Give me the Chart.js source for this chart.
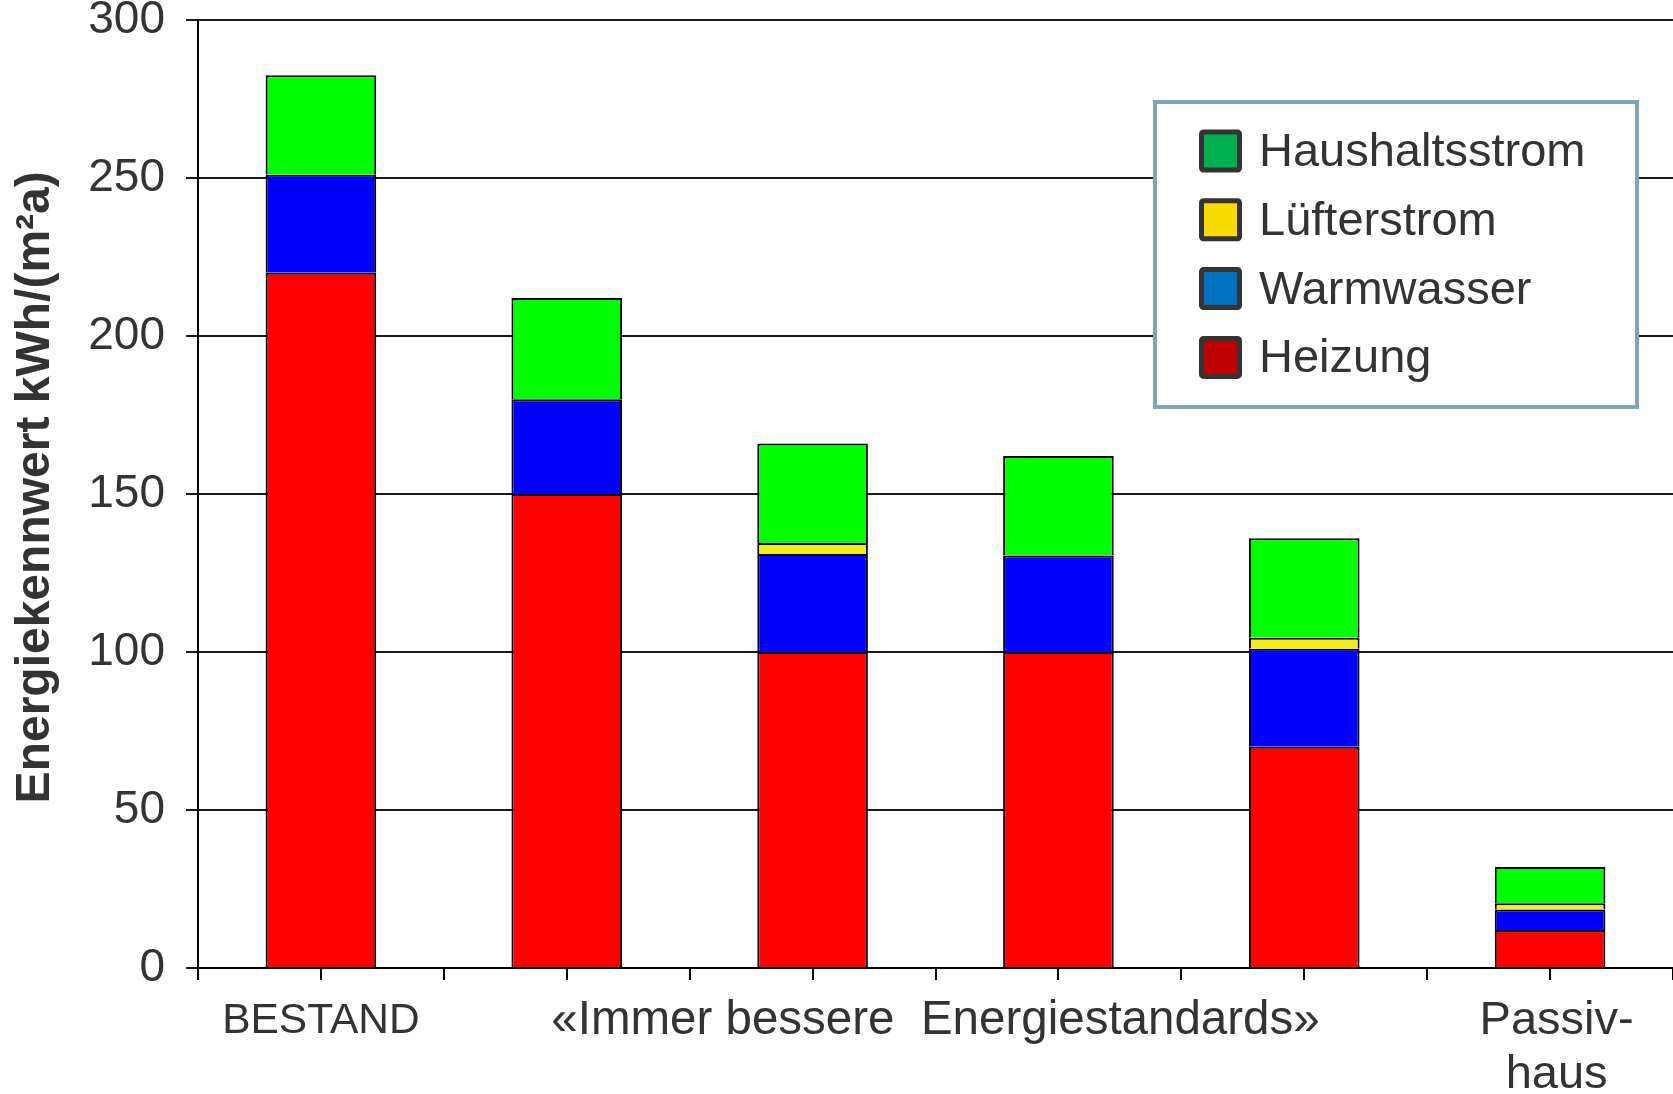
<!DOCTYPE html>
<html lang="de">
<head>
<meta charset="utf-8">
<title>Energiekennwerte</title>
<script src="https://cdn.jsdelivr.net/npm/chart.js@4/dist/chart.umd.min.js"></script>
<style>
  html, body { margin: 0; padding: 0; background: #ffffff; overflow: hidden; }
  canvas { display: block; }
</style>
</head>
<body>
<canvas id="chart" width="1673" height="1094"></canvas>
<script>
// Energy demand per building standard, kWh/(m²a), stacked from the bottom up
const categories = ['BESTAND', 'Standard 1', 'Standard 2', 'Standard 3', 'Standard 4', 'Passivhaus'];
const heizung        = [220, 150, 100, 100,  70, 12];
const warmwasser     = [ 31,  30,  31, 30.5, 31, 6.5];
const luefterstrom   = [  0,   0, 3.5,   0, 3.5,  2];
const haushaltsstrom = [ 31.5, 32, 31.5, 31.5, 31.5, 11.5];
const seriesNames = ['Heizung', 'Warmwasser', 'Lüfterstrom', 'Haushaltsstrom'];

const yTicks = [0, 50, 100, 150, 200, 250, 300];
const yTitle = ' Energiekennwert kWh/(m²a)';

// Labels under the bars: position on the category index scale, text
const groupLabelPositions = [0, 2.5, 5];
const groupLabels = ['BESTAND', '«Immer bessere  Energiestandards»', [' Passiv-', ' haus']];

// Styling
const barColors    = ['#ff0000', '#0000ff', '#f4ec1c', '#00ff00'];
const legendColors = ['#c00000', '#0070c0', '#f8dc00', '#00b050'];
const groupLabelSizes = [42.5, 47.5, 47];
const FONT = '"Liberation Sans", Arial, Helvetica, sans-serif';
const TEXT = '#333333';

const seriesValues = [heizung, warmwasser, luefterstrom, haushaltsstrom];

const datasets = seriesNames.map((name, i) => ({
  label: name,
  data: seriesValues[i],
  backgroundColor: barColors[i],
  borderColor: '#000000',
  borderWidth: 2,
  barPercentage: 0.45,
  categoryPercentage: 1.0
}));

// Framed legend in the upper right of the plot, series listed top-down
const legendBox = {
  id: 'legendBox',
  afterDraw(chart) {
    const ctx = chart.ctx;
    const box = { x: 1155, y: 102, w: 482, h: 305 };
    ctx.save();
    ctx.fillStyle = '#ffffff';
    ctx.fillRect(box.x, box.y, box.w, box.h);
    ctx.lineWidth = 4;
    ctx.strokeStyle = '#7ea6b7';
    ctx.strokeRect(box.x, box.y, box.w, box.h);

    const order = chart.data.datasets.map((d, i) => i).reverse();
    const firstCenter = 151, rowStep = 68.8, sw = 43;
    order.forEach((dsIndex, row) => {
      const cy = firstCenter + row * rowStep;
      const left = 1199;
      const top = cy - sw / 2;
      ctx.beginPath();
      ctx.roundRect(left + 2.5, top + 2.5, sw - 5, sw - 5, 2);
      ctx.fillStyle = legendColors[dsIndex];
      ctx.fill();
      ctx.lineWidth = 5;
      ctx.strokeStyle = '#333333';
      ctx.stroke();

      ctx.fillStyle = TEXT;
      ctx.font = '47px ' + FONT;
      ctx.textAlign = 'left';
      ctx.textBaseline = 'middle';
      ctx.fillText(chart.data.datasets[dsIndex].label, 1259, cy + 2);
    });
    ctx.restore();
  }
};

new Chart(document.getElementById('chart'), {
  type: 'bar',
  data: { labels: categories, datasets },
  options: {
    responsive: false,
    animation: false,
    layout: { padding: { top: 20, left: 0, right: 0, bottom: 0 } },
    plugins: {
      legend: { display: false },
      tooltip: { enabled: false }
    },
    scales: {
      x: {
        stacked: true,
        display: false
      },
      xLabels: {
        type: 'linear',
        position: 'bottom',
        axis: 'x',
        offset: false,
        min: -0.5,
        max: categories.length - 0.5,
        afterBuildTicks(scale) {
          const t = [];
          for (let k = 0; k <= categories.length * 2; k++) t.push({ value: -0.5 + k * 0.5 });
          scale.ticks = t;
        },
        afterFit(scale) {
          scale.height = 126;
          scale.paddingLeft = 0;
          scale.paddingRight = 0;
        },
        border: { display: true, color: '#000000', width: 2 },
        grid: {
          offset: false,
          drawOnChartArea: false,
          drawTicks: true,
          tickLength: 12,
          color: '#000000',
          lineWidth: 2
        },
        ticks: {
          autoSkip: false,
          maxRotation: 0,
          minRotation: 0,
          padding: 14,
          color: TEXT,
          font: (ctx) => {
            const i = groupLabelPositions.indexOf(ctx.tick ? ctx.tick.value : NaN);
            return { family: FONT, size: i >= 0 ? groupLabelSizes[i] : 42, lineHeight: '54px' };
          },
          callback: (value) => {
            const i = groupLabelPositions.indexOf(value);
            return i >= 0 ? groupLabels[i] : '';
          }
        }
      },
      y: {
        stacked: true,
        min: yTicks[0],
        max: yTicks[yTicks.length - 1],
        afterBuildTicks(scale) { scale.ticks = yTicks.map(v => ({ value: v })); },
        afterFit(scale) {
          scale.width = 198;
          scale.paddingTop = 0;
          scale.paddingBottom = 0;
        },
        border: { display: true, color: '#000000', width: 2 },
        grid: {
          color: '#1a1a1a',
          lineWidth: 2,
          drawTicks: true,
          tickLength: 12
        },
        ticks: {
          padding: 21,
          color: TEXT,
          font: { family: FONT, size: 46 }
        },
        title: {
          display: true,
          text: yTitle,
          color: TEXT,
          padding: { top: 7, bottom: 0 },
          font: { family: FONT, size: 48, weight: 'bold', lineHeight: 1.2 }
        }
      }
    }
  },
  plugins: [legendBox]
});
</script>
</body>
</html>
